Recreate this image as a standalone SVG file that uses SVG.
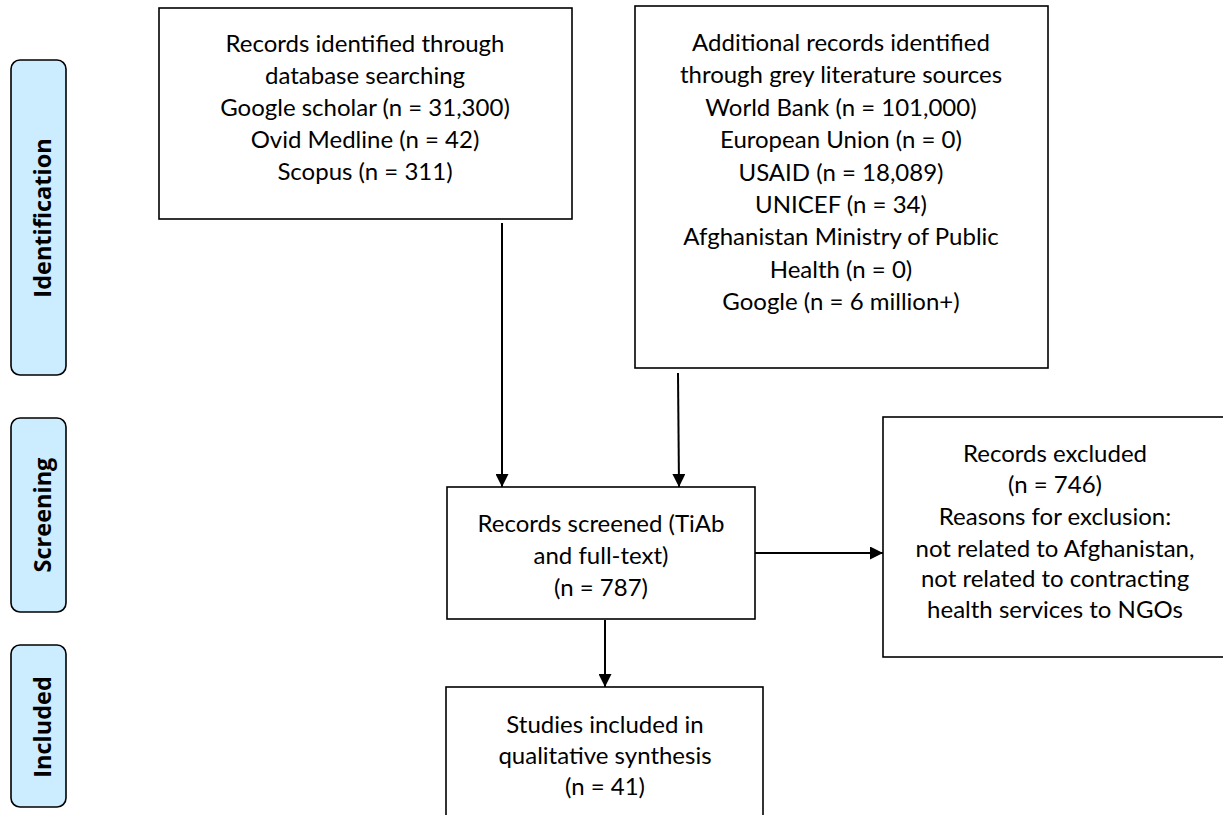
<svg xmlns="http://www.w3.org/2000/svg" width="1223" height="815" viewBox="0 0 1223 815">
<defs>
<marker id="arr" viewBox="0 0 12 12" refX="12" refY="6" markerWidth="13" markerHeight="13" markerUnits="userSpaceOnUse" orient="auto">
<path d="M0,0 L12,6 L0,12 Z" fill="#000"/>
</marker>
<style>
.box{fill:#fff;stroke:#000;stroke-width:1.6}
.phase{fill:#CCECFF;stroke:#000;stroke-width:1.6}
.t{font-family:Lato,"Open Sans","Liberation Sans",sans-serif;font-size:24px;fill:#000;text-anchor:middle}
.pt{font-family:"Open Sans",Lato,"Liberation Sans",sans-serif;font-size:23.5px;font-weight:bold;fill:#000;text-anchor:middle}
.c{stroke:#000;stroke-width:2;fill:none;marker-end:url(#arr)}
</style>
</defs>
<rect width="1223" height="815" fill="#fff"/>
<g id="phase-identification">
<rect class="phase" x="11" y="60" width="55" height="315" rx="9"/>
<text class="pt" transform="translate(51,218) rotate(-90)">Identification</text>
</g>
<g id="phase-screening">
<rect class="phase" x="11" y="418" width="55" height="194" rx="9"/>
<text class="pt" transform="translate(51,515) rotate(-90)">Screening</text>
</g>
<g id="phase-included">
<rect class="phase" x="11" y="645" width="55" height="162" rx="9"/>
<text class="pt" transform="translate(51,727) rotate(-90)">Included</text>
</g>
<g id="db-records">
<rect class="box" x="159" y="8" width="413" height="211"/>
<text class="t" x="365" y="52">Records identified through</text>
<text class="t" x="365" y="84">database searching</text>
<text class="t" x="365" y="116">Google scholar (n = 31,300)</text>
<text class="t" x="365" y="148">Ovid Medline (n = 42)</text>
<text class="t" x="365" y="180">Scopus (n = 311)</text>
</g>
<g id="grey-records">
<rect class="box" x="635" y="6" width="413" height="362"/>
<text class="t" x="841" y="51">Additional records identified</text>
<text class="t" x="841" y="83">through grey literature sources</text>
<text class="t" x="841" y="116">World Bank (n = 101,000)</text>
<text class="t" x="841" y="148">European Union (n = 0)</text>
<text class="t" x="841" y="181">USAID (n = 18,089)</text>
<text class="t" x="841" y="213">UNICEF (n = 34)</text>
<text class="t" x="841" y="245">Afghanistan Ministry of Public</text>
<text class="t" x="841" y="278">Health (n = 0)</text>
<text class="t" x="841" y="310">Google (n = 6 million+)</text>
</g>
<g id="screened">
<rect class="box" x="447" y="487" width="308" height="132"/>
<text class="t" x="601" y="532">Records screened (TiAb</text>
<text class="t" x="601" y="564">and full-text)</text>
<text class="t" x="601" y="596">(n = 787)</text>
</g>
<g id="excluded">
<rect class="box" x="883" y="417" width="345" height="240"/>
<text class="t" x="1055" y="462">Records excluded</text>
<text class="t" x="1055" y="493">(n = 746)</text>
<text class="t" x="1055" y="525">Reasons for exclusion:</text>
<text class="t" x="1055" y="557">not related to Afghanistan,</text>
<text class="t" x="1055" y="587">not related to contracting</text>
<text class="t" x="1055" y="618">health services to NGOs</text>
</g>
<g id="included">
<rect class="box" x="446" y="687" width="317" height="140"/>
<text class="t" x="605" y="733">Studies included in</text>
<text class="t" x="605" y="764">qualitative synthesis</text>
<text class="t" x="605" y="795">(n = 41)</text>
</g>
<g id="connectors">
<line class="c" x1="502" y1="223" x2="502" y2="487"/>
<line class="c" x1="678" y1="373" x2="679" y2="487"/>
<line class="c" x1="755" y1="553" x2="883" y2="553"/>
<line class="c" x1="605" y1="620" x2="605" y2="687"/>
</g>
</svg>
